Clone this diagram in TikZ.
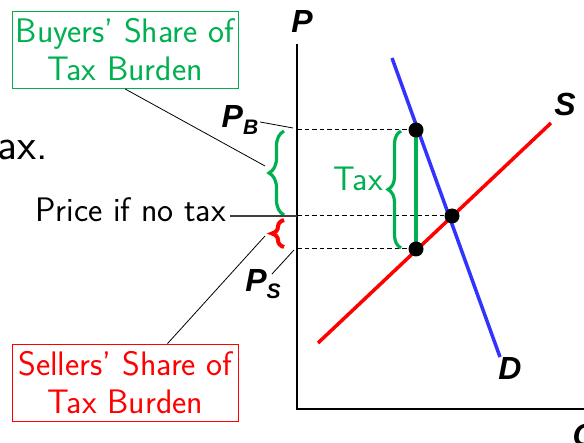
\documentclass[tikz,border=0pt]{standalone}
\usepackage{fontspec}
\newfontfamily\lblfont{Liberation Sans}
\usetikzlibrary{decorations.pathreplacing}
\definecolor{taxgreen}{RGB}{0,176,80}
\definecolor{dblue}{RGB}{51,51,255}
\tikzset{
  curve/.style={line width=3.5pt},
  guide/.style={line width=1pt, dash pattern=on 4.5pt off 3pt},
  dot/.style={circle, fill=black, inner sep=0pt, minimum size=15pt},
  sharebox/.style={draw, line width=0.8pt, align=center, inner sep=2pt, minimum width=226pt, minimum height=77pt, font=\sffamily\fontsize{34}{38}\selectfont},
  axislbl/.style={font=\lblfont\bfseries\itshape\fontsize{32}{34}\selectfont},
  plain/.style={font=\sffamily\fontsize{34}{38}\selectfont},
  leader/.style={line width=0.8pt},
  bracestyle/.style={decorate, decoration={brace, amplitude=#1}, line width=3.2pt},
}
\begin{document}
\begin{tikzpicture}[x=1pt, y=-1pt]
\useasboundingbox (0,0) rectangle (584,443);
\begin{scope}
\clip (0,0) rectangle (584,443);
% slide text cut off at the left
\node[anchor=base west, inner sep=0pt, font=\sffamily\fontsize{44}{50}\selectfont] (slidetxt) at (-3,160) {ax.};
% axes
\coordinate (origin) at (297,409);
\draw[line width=1.2pt] (297,44) -- (origin) -- (600,409);
\node[axislbl] (plbl) at (302,21) {P};
\node[axislbl] (qlbl) at (585,438) {Q};
% curves
\coordinate (d1) at (392,58);
\coordinate (d2) at (500,357);
\coordinate (s1) at (318,343);
\coordinate (s2) at (551,123);
\draw[dblue, curve] (d1) -- (d2);
\draw[red, curve] (s1) -- (s2);
\node[axislbl] (slbl) at (565,104) {S};
\node[axislbl] (dlbl) at (510,368) {D};
% price levels
\coordinate (yb) at (297,130);
\coordinate (yeq) at (297,216);
\coordinate (ys) at (297,249);
\coordinate (pbpt) at (416,130);
\coordinate (eqpt) at (452,216);
\coordinate (pspt) at (416,249);
\draw[guide] (yb) -- (pbpt);
\draw[guide] (yeq) -- (eqpt);
\draw[guide] (ys) -- (pspt);
\draw[taxgreen, line width=4pt] (pbpt) -- (pspt);
\node[dot] (pb) at (pbpt) {};
\node[dot] (eq) at (eqpt) {};
\node[dot] (ps) at (pspt) {};
% tax brace
\draw[taxgreen, bracestyle=13pt] (401,248) -- (401,131);
\node[taxgreen, plain, anchor=east, inner sep=1pt] (taxlbl) at (384,179) {Tax};
% burden braces
\draw[taxgreen, bracestyle=15pt] (284,215) -- (284,131);
\draw[red, bracestyle=12pt, line width=4pt] (284,247) -- (284,220);
% labels on the price axis
\node[axislbl] (pblbl) at (240,120) {P\raisebox{-0.4ex}{\fontsize{21}{21}\selectfont B}};
\node[axislbl] (pslbl) at (263,284) {P\raisebox{-0.4ex}{\fontsize{21}{21}\selectfont S}};
\draw[leader] (260,122) -- (293,128);
\draw[leader] (272,274) -- (294,250);
\node[plain, anchor=base east, inner sep=0pt] (notax) at (226,222) {Price if no tax};
\draw[line width=1.2pt, black!75] (notax.east |- yeq) ++(4,0) -- (yeq);
% share boxes
\node[sharebox, taxgreen] (buyers) at (125,50) {Buyers' Share of\\Tax Burden};
\node[sharebox, red] (sellers) at (125.5,382.5) {Sellers' Share of\\Tax Burden};
\draw[leader] (buyers.south) -- (265,166);
\draw[leader] ([xshift=42pt]sellers.north) -- (265,236);
\end{scope}
\end{tikzpicture}
\end{document}
